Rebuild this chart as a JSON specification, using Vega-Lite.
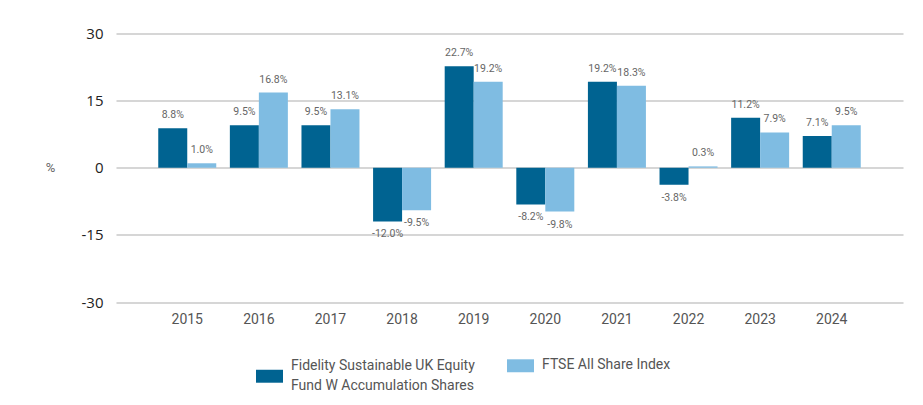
{
  "$schema": "https://vega.github.io/schema/vega-lite/v6.json",
  "width": 787,
  "height": 268.5,
  "autosize": {"type": "none"},
  "padding": {"left": 116, "top": 33.5, "right": 20, "bottom": 103},
  "background": "white",
  "data": {
    "values": [
      {"year": "2015", "series": "Fidelity Sustainable UK Equity Fund W Accumulation Shares", "value": 8.8},
      {"year": "2015", "series": "FTSE All Share Index", "value": 1.0},
      {"year": "2016", "series": "Fidelity Sustainable UK Equity Fund W Accumulation Shares", "value": 9.5},
      {"year": "2016", "series": "FTSE All Share Index", "value": 16.8},
      {"year": "2017", "series": "Fidelity Sustainable UK Equity Fund W Accumulation Shares", "value": 9.5},
      {"year": "2017", "series": "FTSE All Share Index", "value": 13.1},
      {"year": "2018", "series": "Fidelity Sustainable UK Equity Fund W Accumulation Shares", "value": -12.0},
      {"year": "2018", "series": "FTSE All Share Index", "value": -9.5},
      {"year": "2019", "series": "Fidelity Sustainable UK Equity Fund W Accumulation Shares", "value": 22.7},
      {"year": "2019", "series": "FTSE All Share Index", "value": 19.2},
      {"year": "2020", "series": "Fidelity Sustainable UK Equity Fund W Accumulation Shares", "value": -8.2},
      {"year": "2020", "series": "FTSE All Share Index", "value": -9.8},
      {"year": "2021", "series": "Fidelity Sustainable UK Equity Fund W Accumulation Shares", "value": 19.2},
      {"year": "2021", "series": "FTSE All Share Index", "value": 18.3},
      {"year": "2022", "series": "Fidelity Sustainable UK Equity Fund W Accumulation Shares", "value": -3.8},
      {"year": "2022", "series": "FTSE All Share Index", "value": 0.3},
      {"year": "2023", "series": "Fidelity Sustainable UK Equity Fund W Accumulation Shares", "value": 11.2},
      {"year": "2023", "series": "FTSE All Share Index", "value": 7.9},
      {"year": "2024", "series": "Fidelity Sustainable UK Equity Fund W Accumulation Shares", "value": 7.1},
      {"year": "2024", "series": "FTSE All Share Index", "value": 9.5}
    ]
  },
  "transform": [{"calculate": "(datum.value < 0 ? '-' : '') + format(abs(datum.value), '.1f') + '%'", "as": "label"}],
  "encoding": {
    "x": {
      "field": "year", "type": "nominal", "sort": null, "title": null,
      "scale": {"paddingInner": 0.19, "paddingOuter": 0.59, "align": 0.5},
      "axis": {"labelAngle": 0, "domain": false, "ticks": false, "labelPadding": 10, "labelFont": "Roboto", "labelFontSize": 14, "labelColor": "#555555", "grid": false}
    },
    "xOffset": {"field": "series", "type": "nominal", "sort": ["Fidelity Sustainable UK Equity Fund W Accumulation Shares", "FTSE All Share Index"]},
    "y": {
      "field": "value", "type": "quantitative",
      "scale": {"domain": [-30, 30], "nice": false},
      "axis": {
        "values": [-30, -15, 0, 15, 30], "domain": false, "ticks": false, "labelPadding": 13,
        "labelExpr": "datum.value < 0 ? '-' + abs(datum.value) : '' + datum.value",
        "labelFont": "Open Sans", "labelFontSize": 15, "labelColor": "#222222",
        "gridColor": "#d6d6d6", "gridWidth": 2,
        "title": "%", "titleAngle": 0, "titleX": -66, "titleY": 134, "titleAlign": "center", "titleBaseline": "middle",
        "titleFont": "Roboto", "titleFontSize": 13, "titleFontWeight": "normal", "titleColor": "#666666"
      }
    }
  },
  "layer": [
    {
      "mark": {"type": "bar"},
      "encoding": {
        "color": {
          "field": "series", "type": "nominal",
          "scale": {"domain": ["Fidelity Sustainable UK Equity Fund W Accumulation Shares", "FTSE All Share Index"], "range": ["#006391", "#7fbce2"]},
          "legend": {
            "title": null, "orient": "none", "legendX": 140, "legendY": 319, "direction": "horizontal", "columns": 2,
            "columnPadding": 32, "padding": 0,
            "symbolType": "M-1,-0.48H1V0.48H-1Z", "symbolSize": 729, "symbolStrokeWidth": 0,
            "labelOffset": 8, "labelFont": "Roboto", "labelFontSize": 14, "labelColor": "#555555", "labelLimit": 400,
            "labelExpr": "datum.label == 'FTSE All Share Index' ? datum.label : ['Fidelity Sustainable UK Equity', 'Fund W Accumulation Shares']",
            "encode": {
              "symbols": {
                "update": {
                  "shape": {"signal": "datum.value == 'FTSE All Share Index' ? 'M-1,-2.07H1V-1.11H-1Z' : 'M-1,0.26H1V1.22H-1Z'"}
                }
              },
              "labels": {
                "update": {
                  "dy": {"signal": "datum.value == 'FTSE All Share Index' ? -22 : 0"}
                }
              }
            }
          }
        }
      }
    },
    {
      "transform": [{"filter": "datum.value >= 0"}],
      "mark": {"type": "text", "baseline": "bottom", "dy": -8, "font": "Roboto", "fontSize": 10.5, "color": "#666666"},
      "encoding": {"text": {"field": "label", "type": "nominal"}}
    },
    {
      "transform": [{"filter": "datum.value < 0"}],
      "mark": {"type": "text", "baseline": "top", "dy": 8, "font": "Roboto", "fontSize": 10.5, "color": "#666666"},
      "encoding": {"text": {"field": "label", "type": "nominal"}}
    }
  ],
  "config": {
    "view": {"stroke": null},
    "style": {"guide-label": {"lineHeight": 20}}
  }
}
